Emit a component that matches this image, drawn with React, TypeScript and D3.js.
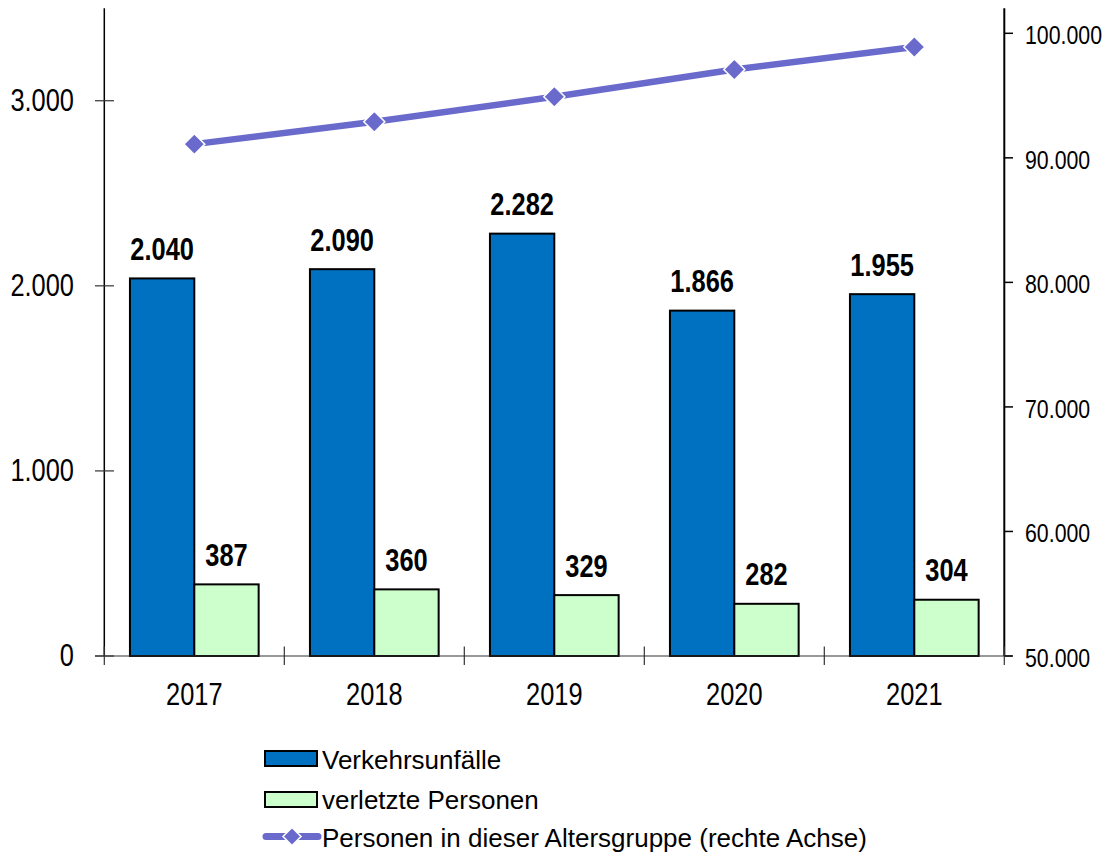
import React from "react";
import * as d3 from "d3";

const years = ["2017", "2018", "2019", "2020", "2021"];
const unfaelle = [2040, 2090, 2282, 1866, 1955];
const verletzte = [387, 360, 329, 282, 304];
const personen = [91100, 92900, 94900, 97100, 98900];
const leftTicks = [0, 1000, 2000, 3000];
const rightTicks = [50000, 60000, 70000, 80000, 90000, 100000];

const W = 1106;
const H = 853;
const FONT = "'Liberation Sans', Arial, sans-serif";
const NARROW = 0.82;
const fmt = (v: number) => d3.format(",")(v).replace(/,/g, ".");

function NText(props: {
  x: number;
  y: number;
  anchor?: string;
  size: number;
  bold?: boolean;
  dy?: string;
  children: React.ReactNode;
}) {
  const { x, y, anchor = "middle", size, bold, dy, children } = props;
  return (
    <g transform={`translate(${x},${y}) scale(${NARROW},1)`}>
      <text
        x={0}
        y={0}
        dy={dy}
        textAnchor={anchor}
        fontSize={size}
        fontWeight={bold ? "bold" : "normal"}
        fill="#000"
      >
        {children}
      </text>
    </g>
  );
}

export default function App() {
  const x0 = 104.3;
  const x1 = 1004.3;
  const yBase = 656;
  const yL = d3.scaleLinear().domain([0, 3500]).range([yBase, 8.2]);
  const yR = d3.scaleLinear().domain([50000, 100000]).range([yBase, 33.3]);
  const xBand = d3.scaleBand().domain(years).range([x0, x1]).paddingInner(0).paddingOuter(0);
  const bw = xBand.bandwidth();
  const barW = bw * 0.3575;
  const gapL = (bw - 2 * barW) / 2;
  const blue = "#0070C0";
  const green = "#CCFFCC";
  const lineC = "#6A6ACD";
  const line = d3
    .line<number>()
    .x((_, i) => (xBand(years[i]) as number) + bw / 2)
    .y((d) => yR(d));
  const diamond = (cx: number, cy: number, r: number) =>
    `M${cx},${cy - r}L${cx + r},${cy}L${cx},${cy + r}L${cx - r},${cy}Z`;

  return (
    <svg
      width={W}
      height={H}
      style={{ position: "absolute", left: 0, top: 0, background: "#fff" }}
      fontFamily={FONT}
    >
      <rect x={0} y={0} width={W} height={H} fill="#fff" />
      {/* bars */}
      {years.map((yr, i) => {
        const gx = xBand(yr) as number;
        const bx = gx + gapL;
        const gxx = bx + barW;
        return (
          <g key={yr}>
            <rect
              x={bx}
              y={yL(unfaelle[i])}
              width={barW}
              height={yBase - yL(unfaelle[i])}
              fill={blue}
              stroke="#000"
              strokeWidth={2}
            />
            <rect
              x={gxx}
              y={yL(verletzte[i])}
              width={barW}
              height={yBase - yL(verletzte[i])}
              fill={green}
              stroke="#000"
              strokeWidth={2}
            />
            <NText x={bx + barW / 2} y={yL(unfaelle[i]) - 18.5} size={31} bold>
              {fmt(unfaelle[i])}
            </NText>
            <NText x={gxx + barW / 2} y={yL(verletzte[i]) - 18.5} size={31} bold>
              {fmt(verletzte[i])}
            </NText>
            <NText x={gx + bw / 2} y={705} size={31}>
              {yr}
            </NText>
          </g>
        );
      })}
      {/* axes */}
      <line x1={x0} x2={x0} y1={yL(3500)} y2={yBase} stroke="#000" strokeWidth={1.5} />
      <line x1={x1} x2={x1} y1={yL(3500)} y2={yBase} stroke="#000" strokeWidth={2} />
      <line x1={95} x2={1012} y1={yBase} y2={yBase} stroke="#333" strokeWidth={1.2} />
      {leftTicks.map((t) => (
        <g key={t}>
          <line x1={95} x2={114} y1={yL(t)} y2={yL(t)} stroke="#333" strokeWidth={1.2} />
          <NText x={74} y={yL(t)} dy="0.32em" anchor="end" size={31}>
            {fmt(t)}
          </NText>
        </g>
      ))}
      {rightTicks.map((t) => (
        <g key={t}>
          <line x1={x1} x2={1013} y1={yR(t)} y2={yR(t)} stroke="#000" strokeWidth={1.5} />
          <NText x={1025} y={yR(t)} dy="0.42em" anchor="start" size={26}>
            {fmt(t)}
          </NText>
        </g>
      ))}
      {years.map((yr) => (
        <line
          key={"xt" + yr}
          x1={xBand(yr) as number}
          x2={xBand(yr) as number}
          y1={646.5}
          y2={665}
          stroke="#333"
          strokeWidth={1.2}
        />
      ))}
      <line x1={x1} x2={x1} y1={646.5} y2={665} stroke="#333" strokeWidth={1.2} />
      {/* line series */}
      <path d={line(personen) || ""} fill="none" stroke={lineC} strokeWidth={6.5} />
      {personen.map((v, i) => (
        <path
          key={"m" + i}
          d={diamond((xBand(years[i]) as number) + bw / 2, yR(v), 10.5)}
          fill={lineC}
          stroke="#fff"
          strokeWidth={1.5}
        />
      ))}
      {/* legend */}
      <rect x={265} y={751} width={52} height={15} fill={blue} stroke="#000" strokeWidth={2} />
      <text x={322} y={769} fontSize={26} fill="#000">
        Verkehrsunfälle
      </text>
      <rect x={265} y={792} width={52} height={15} fill={green} stroke="#000" strokeWidth={2} />
      <text x={322} y={809} fontSize={26} fill="#000">
        verletzte Personen
      </text>
      <line x1={266} x2={318} y1={836.5} y2={836.5} stroke={lineC} strokeWidth={7} strokeLinecap="round" />
      <path d={diamond(292, 836.5, 9)} fill={lineC} stroke="#fff" strokeWidth={1.5} />
      <text x={322} y={847} fontSize={26} fill="#000">
        Personen in dieser Altersgruppe (rechte Achse)
      </text>
    </svg>
  );
}
